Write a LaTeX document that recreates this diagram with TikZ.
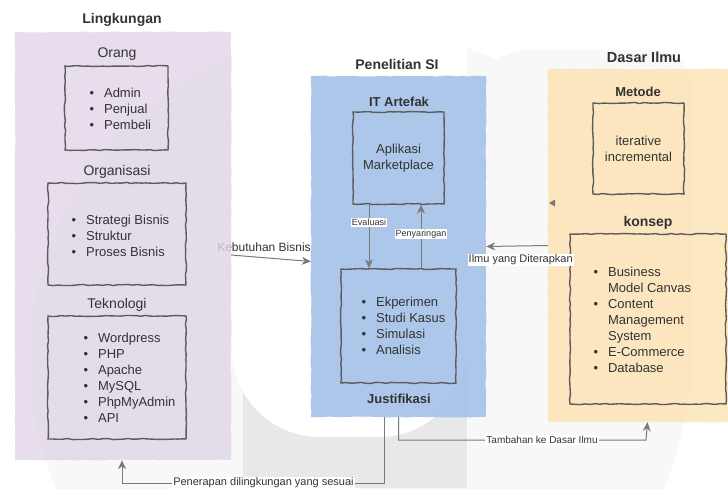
\documentclass[tikz,border=0pt]{standalone}
\usepackage{fontspec}
\setmainfont{Liberation Sans}
\usetikzlibrary{arrows.meta,decorations.pathmorphing}

\definecolor{lingkfill}{HTML}{E1D5E7}
\definecolor{penelfill}{HTML}{A5C1E8}
\definecolor{dasarfill}{HTML}{FCE5BA}
\definecolor{inkgrey}{HTML}{333333}
\definecolor{boxgrey}{HTML}{5C5C5C}
\definecolor{arrgrey}{HTML}{7A7A7A}
\definecolor{wmlight}{HTML}{F8F8F8}
\definecolor{wmgrey}{HTML}{E8E8E8}

\tikzset{
  panel/.style={inner sep=0pt, decorate, decoration={random steps,segment length=6pt,amplitude=0.5pt}},
  sketchbox/.style={draw=boxgrey, line width=1.4pt, inner sep=0pt, decorate, decoration={random steps,segment length=5pt,amplitude=0.6pt}},
  head/.style={font=\fontsize{14}{16}\selectfont\bfseries, text=inkgrey},
  subhead/.style={font=\fontsize{13}{16}\selectfont\bfseries, text=inkgrey},
  boxtitle/.style={font=\fontsize{14}{16}\selectfont, text=inkgrey},
  bodytxt/.style={font=\fontsize{13}{16}\selectfont, text=inkgrey, align=center},
  arr/.style={draw=arrgrey, line width=1pt, -{Stealth[length=9pt,width=8pt]}},
  lbl/.style={fill=white, inner sep=1pt, text=inkgrey},
}

% bullet list: one row per item
\newcommand{\blist}[1]{\begin{tabular}{@{}l@{\hspace{10pt}}l@{}}#1\end{tabular}}

\begin{document}
\begin{tikzpicture}[x=1pt,y=-1pt]
\useasboundingbox (0,0) rectangle (728,488);

% Watermark behind everything
\fill[wmlight] (360,360) circle (330pt);
\fill[wmlight, rounded corners=40pt] (485,50) rectangle (693,420);
\fill[wmgrey] (243,300) rectangle (467,488);
\fill[white, rounded corners=88pt] (232,-40) rectangle (467,437);

% Label under the faded purple panel
\node[lbl, font=\fontsize{12}{14}\selectfont] (kebutuhan) at (264,247) {Kebutuhan Bisnis};

% The three panels
\node[panel, fill=lingkfill, fill opacity=0.8, minimum width=216pt, minimum height=428pt] (lingk) at (123,246) {};
\node[panel, fill=penelfill, fill opacity=0.9, minimum width=175pt, minimum height=341pt] (penel) at (398.5,246.5) {};
\node[panel, fill=dasarfill, fill opacity=0.9, minimum width=190pt, minimum height=353pt] (dasar) at (643,245.5) {};

% Lingkungan
\node[head] (t-lingk) at (122,20) {Lingkungan};
\node[boxtitle] (t-orang) at (117,54) {Orang};
\node[sketchbox, minimum width=103pt, minimum height=84pt] (orang) at (116.5,108) {};
\node[bodytxt, anchor=west] (orang-isi) at (86,110) {\blist{\textbullet & Admin\\ \textbullet & Penjual\\ \textbullet & Pembeli}};
\node[boxtitle] (t-organ) at (117,172) {Organisasi};
\node[sketchbox, minimum width=138pt, minimum height=102pt] (organ) at (117,234) {};
\node[bodytxt, anchor=west] (organ-isi) at (68,237) {\blist{\textbullet & Strategi Bisnis\\ \textbullet & Struktur\\ \textbullet & Proses Bisnis}};
\node[boxtitle] (t-tekno) at (117,305) {Teknologi};
\node[sketchbox, minimum width=138pt, minimum height=123pt] (tekno) at (117,377.5) {};
\node[bodytxt, anchor=west] (tekno-isi) at (80,379) {\blist{\textbullet & Wordpress\\ \textbullet & PHP\\ \textbullet & Apache\\ \textbullet & MySQL\\ \textbullet & PhpMyAdmin\\ \textbullet & API}};

% Penelitian SI
\node[head] (t-penel) at (397,64) {Penelitian SI};
\node[subhead] (t-artefak) at (399,102) {IT Artefak};
\node[sketchbox, bodytxt, minimum width=91pt, minimum height=92pt] (aplik) at (398.5,158) {Aplikasi\\Marketplace};
\node[sketchbox, minimum width=115pt, minimum height=114pt] (riset) at (398.5,326) {};
\node[bodytxt, anchor=west] (riset-isi) at (358,327.5) {\blist{\textbullet & Ekperimen\\ \textbullet & Studi Kasus\\ \textbullet & Simulasi\\ \textbullet & Analisis}};
\node[subhead] (t-justif) at (399,399) {Justifikasi};

% Dasar Ilmu
\node[head, font=\fontsize{14.5}{16}\selectfont\bfseries] (t-dasar) at (644,57) {Dasar Ilmu};
\node[subhead] (t-metode) at (638,92) {Metode};
\node[sketchbox, bodytxt, minimum width=91pt, minimum height=91pt] (metode) at (638.5,148.5) {iterative\\incremental};
\node[head] (t-konsep) at (648,223) {konsep};
\node[sketchbox, minimum width=156pt, minimum height=170pt] (konsep) at (648,319) {};
\node[bodytxt, anchor=west] (konsep-isi) at (590,321) {\blist{\textbullet & Business\\ & Model Canvas\\ \textbullet & Content\\ & Management\\ & System\\ \textbullet & E-Commerce\\ \textbullet & Database}};
\fill[arrgrey] (549,203) -- (555,199.5) -- (555,206.5) -- cycle;

% Connectors
\draw[arr] ([yshift=-9pt]lingk.east) -- ([yshift=-15pt]penel.west);
\draw[arr] (dasar.west) -- (penel.east)
  node[lbl, font=\fontsize{11}{13}\selectfont, pos=0.44, yshift=-14pt] (ilmu) {Ilmu yang Diterapkan};
\draw[arr] ([xshift=-29.5pt]aplik.south) -- ([xshift=-29.5pt]aplik.south |- riset.north)
  node[lbl, font=\fontsize{9}{10}\selectfont, pos=0.28] (evaluasi) {Evaluasi};
\draw[arr] ([xshift=22.5pt]riset.north) -- ([xshift=22.5pt]riset.north |- aplik.south)
  node[lbl, font=\fontsize{9}{10}\selectfont, pos=0.54] (saring) {Penyaringan};
\coordinate (tambah-belok) at (646,440);
\draw[arr] (penel.south) |- node[lbl, font=\fontsize{10}{12}\selectfont, pos=0.79] (tambah) {Tambahan ke Dasar Ilmu} (tambah-belok) -- ([xshift=4.5pt]dasar.south);
\coordinate (terap-belok) at (122,483);
\draw[arr] ([xshift=-14.5pt]penel.south) |- node[lbl, font=\fontsize{11}{13}\selectfont, pos=0.73] (terap) {Penerapan dilingkungan yang sesuai} (terap-belok) -- ([xshift=-1pt]lingk.south);
\end{tikzpicture}
\end{document}
